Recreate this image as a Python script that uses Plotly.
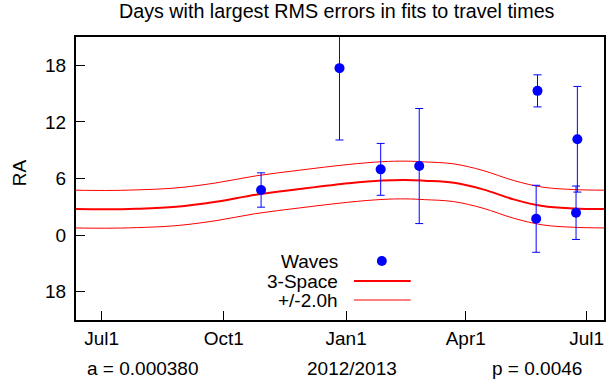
import plotly.graph_objects as go

# ---- data ----
CURVE_DATES = ["2012-06-11", "2012-07-04", "2012-07-27", "2012-08-26", "2012-09-25",
               "2012-10-25", "2012-11-27", "2013-01-03", "2013-01-28", "2013-02-15",
               "2013-03-01", "2013-03-23", "2013-04-14", "2013-05-07", "2013-05-29",
               "2013-06-21", "2013-07-14"]
CURVE_RA = [2.76, 2.73, 2.79, 3.00, 3.53, 4.28, 4.88, 5.49, 5.78, 5.84,
            5.76, 5.55, 4.85, 3.79, 3.08, 2.83, 2.76]
BAND_HALF_WIDTH = 2.0  # "+/-2.0h"

WAVE_DATES = ["2012-10-29", "2012-12-27", "2013-01-27", "2013-02-25",
              "2013-05-25", "2013-05-24", "2013-06-24", "2013-06-23"]
WAVE_RA = [4.78, 17.7, 6.97, 7.32, 15.29, 1.73, 10.16, 2.37]
WAVE_ERR = [1.82, 7.62, 2.75, 6.10, 1.70, 3.55, 5.60, 2.83]

X_TICK_VALS = ["2012-07-01", "2012-10-01", "2013-01-01", "2013-04-01", "2013-07-01"]
X_TICK_TEXT = ["Jul1", "Oct1", "Jan1", "Apr1", "Jul1"]
Y_TICK_VALS = [-6, 0, 6, 12, 18]
Y_TICK_TEXT = ["18", "0", "6", "12", "18"]

TITLE = "Days with largest RMS errors in fits to travel times"
FONT = "Liberation Sans, Arial, Helvetica, sans-serif"
FS = 19

W, H = 614, 387
# plot area in page pixels
L, R, T, B = 76, 606, 37, 320

def px(xp):
    return (xp - L) / (R - L)

def py(yp):
    return (B - yp) / (B - T)

upper = [v + BAND_HALF_WIDTH for v in CURVE_RA]
lower = [v - BAND_HALF_WIDTH for v in CURVE_RA]

fig = go.Figure()
for ys in (upper, lower):
    fig.add_trace(go.Scatter(x=CURVE_DATES, y=ys, mode="lines",
                             line=dict(color="#ff0000", width=1, shape="spline"),
                             showlegend=False, hoverinfo="skip"))
fig.add_trace(go.Scatter(x=CURVE_DATES, y=CURVE_RA, mode="lines",
                         line=dict(color="#ff0000", width=2, shape="spline"),
                         showlegend=False))
fig.add_trace(go.Scatter(x=WAVE_DATES, y=WAVE_RA, mode="markers",
                         marker=dict(color="#0000ff", size=10),
                         error_y=dict(type="data", array=WAVE_ERR, color="#0000ff",
                                      thickness=1, width=4),
                         showlegend=False))

annotations = [
    dict(text=TITLE, x=px(338), y=py(11), xref="paper", yref="paper",
         showarrow=False, xanchor="center", yanchor="middle", font=dict(size=19.7)),
    dict(text="RA", x=px(19), y=py(173), xref="paper", yref="paper", textangle=-90,
         showarrow=False, xanchor="center", yanchor="middle"),
    dict(text="a = 0.000380", x=px(85), y=py(369), xref="paper", yref="paper",
         showarrow=False, xanchor="left", yanchor="middle"),
    dict(text="2012/2013", x=px(353), y=py(369), xref="paper", yref="paper",
         showarrow=False, xanchor="center", yanchor="middle"),
    dict(text="p = 0.0046", x=px(586), y=py(369), xref="paper", yref="paper",
         showarrow=False, xanchor="right", yanchor="middle"),
    dict(text="Waves", x=px(341), y=py(261), xref="paper", yref="paper",
         showarrow=False, xanchor="right", yanchor="middle"),
    dict(text="3-Space", x=px(341), y=py(281), xref="paper", yref="paper",
         showarrow=False, xanchor="right", yanchor="middle"),
    dict(text="+/-2.0h", x=px(341), y=py(300), xref="paper", yref="paper",
         showarrow=False, xanchor="right", yanchor="middle"),
]
for a in annotations:
    a.setdefault("font", dict(size=FS))

shapes = [
    dict(type="circle", xref="paper", yref="paper",
         x0=px(378), x1=px(388), y0=py(266), y1=py(256),
         fillcolor="#0000ff", line=dict(width=0)),
    dict(type="line", xref="paper", yref="paper", x0=px(355), x1=px(412),
         y0=py(281), y1=py(281), line=dict(color="#ff0000", width=2)),
    dict(type="line", xref="paper", yref="paper", x0=px(355), x1=px(412),
         y0=py(300), y1=py(300), line=dict(color="#ff0000", width=1)),
]

fig.update_layout(
    width=W, height=H,
    margin=dict(l=L, r=W - R, t=T, b=H - B, pad=0),
    paper_bgcolor="white", plot_bgcolor="white",
    font=dict(family=FONT, size=FS, color="black"),
    annotations=annotations, shapes=shapes,
    showlegend=False,
)
fig.update_xaxes(type="date", range=["2012-06-11 17:30", "2013-07-14 01:00"],
                 tickvals=X_TICK_VALS, ticktext=X_TICK_TEXT,
                 ticks="inside", ticklen=9, tickwidth=1, tickcolor="black",
                 showline=True, linecolor="black", linewidth=2, mirror=True,
                 showgrid=False, zeroline=False, ticklabelstandoff=0)
fig.update_yaxes(range=[-9, 21], tickvals=Y_TICK_VALS, ticktext=Y_TICK_TEXT,
                 ticks="inside", ticklen=9, tickwidth=1, tickcolor="black",
                 showline=True, linecolor="black", linewidth=2, mirror=True,
                 showgrid=False, zeroline=False, ticklabelstandoff=4)

fig.write_html("out.html",
               config={"displayModeBar": False},
               post_script="document.body.style.margin='0';document.body.style.overflow='hidden';")
